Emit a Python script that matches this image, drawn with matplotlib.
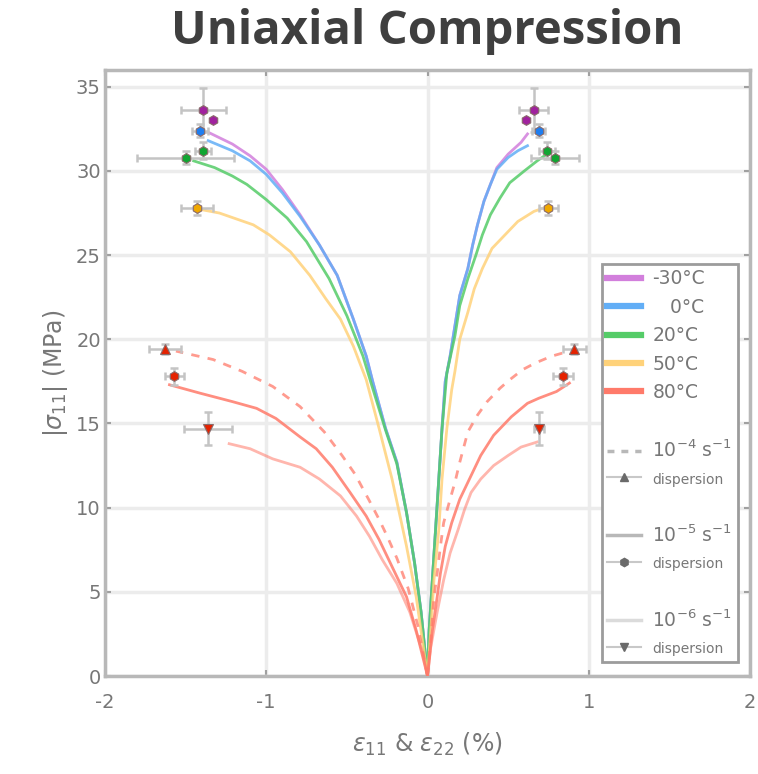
import numpy as np
import matplotlib.pyplot as plt
from matplotlib.lines import Line2D

plt.rcParams['axes.unicode_minus'] = False

#%% data (strain in %, stress in MPa)

temps = ['-30°C', '   0°C', '20°C', '50°C', '80°C']
line_colors = ['#d27fdc', '#62aef6', '#55cc68', '#ffd27a', '#ff7a6a']
marker_colors = ['#a0229e', '#1e7ef0', '#11a532', '#f0a800', '#e52200']

#curves at 1e-5 1/s, left = lateral strain, right = axial strain
m30_left_x = [0, -0.04, -0.08, -0.13, -0.19, -0.26, -0.34, -0.38, -0.46, -0.56, -0.67, -0.79, -0.90, -1.00, -1.10, -1.21, -1.36]
m30_left_y = [0, 3.8, 6.7, 9.7, 12.7, 14.7, 17.5, 19.0, 21.2, 23.8, 25.6, 27.4, 28.9, 30.1, 30.9, 31.6, 32.3]
m30_right_x = [0, 0.01, 0.03, 0.05, 0.07, 0.09, 0.11, 0.14, 0.17, 0.20, 0.25, 0.28, 0.31, 0.35, 0.39, 0.43, 0.50, 0.58, 0.62]
m30_right_y = [0, 2.7, 5.7, 8.7, 11.7, 14.7, 17.5, 19.0, 20.8, 22.6, 24.2, 25.6, 26.8, 28.2, 29.2, 30.2, 31.0, 31.7, 32.2]

t0_left_x = [0, -0.04, -0.08, -0.13, -0.19, -0.26, -0.34, -0.38, -0.46, -0.56, -0.67, -0.79, -0.90, -1.00, -1.10, -1.21, -1.36]
t0_left_y = [0, 3.8, 6.7, 9.7, 12.7, 14.7, 17.5, 19.0, 21.2, 23.8, 25.6, 27.3, 28.7, 29.8, 30.6, 31.2, 31.8]
t0_right_x = [0, 0.01, 0.03, 0.05, 0.07, 0.09, 0.11, 0.14, 0.17, 0.20, 0.25, 0.28, 0.31, 0.35, 0.39, 0.43, 0.50, 0.56, 0.62]
t0_right_y = [0, 2.7, 5.7, 8.7, 11.7, 14.7, 17.5, 19.0, 20.8, 22.6, 24.2, 25.6, 26.8, 28.2, 29.2, 30.1, 30.8, 31.2, 31.5]

t20_left_x = [0, -0.04, -0.08, -0.13, -0.19, -0.26, -0.35, -0.40, -0.50, -0.61, -0.75, -0.87, -1.00, -1.12, -1.21, -1.32, -1.45]
t20_left_y = [0, 3.8, 6.7, 9.7, 12.6, 14.6, 17.4, 19.0, 21.4, 23.6, 25.8, 27.2, 28.3, 29.2, 29.7, 30.2, 30.6]
t20_right_x = [0, 0.01, 0.03, 0.05, 0.07, 0.09, 0.12, 0.17, 0.20, 0.25, 0.30, 0.34, 0.39, 0.45, 0.51, 0.60, 0.68, 0.74]
t20_right_y = [0, 2.7, 5.7, 8.7, 11.7, 14.7, 18.0, 20.2, 22.0, 23.6, 25.0, 26.2, 27.4, 28.4, 29.3, 30.0, 30.6, 31.0]

t50_left_x = [0, -0.07, -0.13, -0.22, -0.30, -0.38, -0.46, -0.54, -0.63, -0.73, -0.85, -0.98, -1.08, -1.20, -1.29, -1.40]
t50_left_y = [0, 4.7, 7.7, 11.7, 14.7, 17.6, 19.6, 21.2, 22.4, 23.8, 25.2, 26.2, 26.8, 27.2, 27.5, 27.7]
t50_right_x = [0, 0.02, 0.04, 0.07, 0.09, 0.12, 0.15, 0.17, 0.20, 0.25, 0.29, 0.34, 0.40, 0.48, 0.56, 0.66, 0.72]
t50_right_y = [0, 2.7, 5.7, 8.7, 11.7, 14.7, 17.0, 18.1, 20.0, 21.6, 23.0, 24.2, 25.4, 26.2, 27.0, 27.6, 27.8]

#80°C at three strain rates
r4_left_x = [0, -0.06, -0.12, -0.19, -0.25, -0.30, -0.36, -0.45, -0.53, -0.64, -0.79, -0.96, -1.15, -1.33, -1.56]
r4_left_y = [0, 3.0, 5.2, 7.0, 8.3, 9.3, 10.4, 12.0, 13.1, 14.5, 16.0, 17.2, 18.1, 18.8, 19.3]
r4_right_x = [0, 0.02, 0.04, 0.06, 0.08, 0.10, 0.14, 0.17, 0.20, 0.25, 0.31, 0.37, 0.45, 0.51, 0.59, 0.67, 0.77, 0.88]
r4_right_y = [0, 2.1, 4.7, 6.1, 7.7, 9.1, 10.5, 11.5, 12.7, 14.5, 15.5, 16.3, 17.1, 17.6, 18.2, 18.6, 19.0, 19.3]

r5_left_x = [0, -0.07, -0.13, -0.22, -0.30, -0.38, -0.48, -0.59, -0.69, -0.79, -0.94, -1.06, -1.21, -1.41, -1.60]
r5_left_y = [0, 2.7, 4.7, 6.5, 8.1, 9.5, 10.9, 12.4, 13.5, 14.2, 15.3, 15.9, 16.3, 16.8, 17.3]
r5_right_x = [0, 0.03, 0.06, 0.08, 0.11, 0.15, 0.20, 0.27, 0.33, 0.41, 0.52, 0.62, 0.69, 0.80, 0.88]
r5_right_y = [0, 2.7, 4.7, 6.1, 7.7, 9.1, 10.5, 11.9, 13.1, 14.3, 15.4, 16.2, 16.5, 16.9, 17.4]

r6_left_x = [0, -0.03, -0.11, -0.19, -0.28, -0.36, -0.44, -0.54, -0.67, -0.79, -0.96, -1.10, -1.23]
r6_left_y = [0, 1.4, 3.8, 5.5, 6.9, 8.3, 9.5, 10.7, 11.7, 12.4, 12.9, 13.5, 13.8]
r6_right_x = [0, 0.02, 0.06, 0.10, 0.14, 0.19, 0.23, 0.27, 0.33, 0.41, 0.50, 0.58, 0.68]
r6_right_y = [0, 1.7, 3.8, 5.7, 7.3, 8.7, 9.9, 10.9, 11.7, 12.5, 13.1, 13.6, 13.9]

#end points with dispersion (x, y, xerr, yerr)
m30_pts_x = [-1.39, -1.33, 0.66, 0.61]
m30_pts_y = [33.6, 33.0, 33.6, 33.0]
m30_xerr = [0.14, 0.0, 0.09, 0.0]
m30_yerr = [1.3, 0.0, 1.3, 0.0]

t0_pts_x = [-1.41, 0.69]
t0_pts_y = [32.4, 32.4]
t0_xerr = [0.05, 0.04]
t0_yerr = [0.4, 0.4]

t20_pts_x = [-1.39, -1.50, 0.74, 0.79]
t20_pts_y = [31.2, 30.8, 31.2, 30.8]
t20_xerr = [0.05, 0.30, 0.05, 0.15]
t20_yerr = [0.5, 0.4, 0.5, 0.4]

t50_pts_x = [-1.43, 0.75]
t50_pts_y = [27.8, 27.8]
t50_xerr = [0.10, 0.06]
t50_yerr = [0.4, 0.4]

r4_pts_x = [-1.63, 0.91]
r4_pts_y = [19.4, 19.4]
r4_xerr = [0.10, 0.07]
r4_yerr = [0.3, 0.3]

r5_pts_x = [-1.57, 0.84]
r5_pts_y = [17.8, 17.8]
r5_xerr = [0.06, 0.06]
r5_yerr = [0.5, 0.5]

r6_pts_x = [-1.36, 0.69]
r6_pts_y = [14.7, 14.7]
r6_xerr = [0.15, 0.03]
r6_yerr = [1.0, 1.0]

#%% plot

fig = plt.figure(figsize=(7.58, 7.74), dpi=100)
ax = fig.add_axes([0.1385, 0.1266, 0.851, 0.783])

txt = '#777777'
lw = 2.0

curves = [(m30_left_x, m30_left_y, m30_right_x, m30_right_y, 0),
          (t0_left_x, t0_left_y, t0_right_x, t0_right_y, 1),
          (t20_left_x, t20_left_y, t20_right_x, t20_right_y, 2),
          (t50_left_x, t50_left_y, t50_right_x, t50_right_y, 3),
          (r5_left_x, r5_left_y, r5_right_x, r5_right_y, 4)]
for lx, ly, rx, ry, i in curves:
    ax.plot(lx, ly, c=line_colors[i], lw=lw, alpha=0.85, zorder=3)
    ax.plot(rx, ry, c=line_colors[i], lw=lw, alpha=0.85, zorder=3)

#80°C other rates
ax.plot(r4_left_x, r4_left_y, c=line_colors[4], lw=lw, ls=(0, (3, 3)), alpha=0.75, zorder=3)
ax.plot(r4_right_x, r4_right_y, c=line_colors[4], lw=lw, ls=(0, (3, 3)), alpha=0.75, zorder=3)
ax.plot(r6_left_x, r6_left_y, c=line_colors[4], lw=lw, alpha=0.55, zorder=3)
ax.plot(r6_right_x, r6_right_y, c=line_colors[4], lw=lw, alpha=0.55, zorder=3)

#markers with error bars
pts = [(m30_pts_x, m30_pts_y, m30_xerr, m30_yerr, 0, 'h'),
       (t0_pts_x, t0_pts_y, t0_xerr, t0_yerr, 1, 'h'),
       (t20_pts_x, t20_pts_y, t20_xerr, t20_yerr, 2, 'h'),
       (t50_pts_x, t50_pts_y, t50_xerr, t50_yerr, 3, 'h'),
       (r4_pts_x, r4_pts_y, r4_xerr, r4_yerr, 4, '^'),
       (r5_pts_x, r5_pts_y, r5_xerr, r5_yerr, 4, 'h'),
       (r6_pts_x, r6_pts_y, r6_xerr, r6_yerr, 4, 'v')]
for px, py, ex, ey, i, mk in pts:
    ax.errorbar(px, py, xerr=ex, yerr=ey, fmt='none', ecolor='#c4c4c4',
                elinewidth=1.8, capsize=3, capthick=1.8, zorder=4)
    ax.plot(px, py, ls='none', marker=mk, ms=7, mfc=marker_colors[i],
            mec='#8a6a6a', mew=0.8, zorder=5)

ax.set_xlim(-2, 2)
ax.set_ylim(0, 36)
ax.set_xticks([-2, -1, 0, 1, 2])
ax.set_yticks(np.arange(0, 36, 5))
ax.grid(True, color='#ececec', lw=2.5)
ax.set_axisbelow(True)
for s in ax.spines.values():
    s.set_color('#b8b8b8')
    s.set_linewidth(2.5)
ax.tick_params(direction='in', length=4, width=1.5, color='#a0a0a0',
               labelsize=14, labelcolor=txt, top=True, right=True)
ax.tick_params(axis='x', pad=12)
ax.tick_params(axis='y', pad=3)

ax.set_xlabel(r'$\epsilon_{11}$ & $\epsilon_{22}$ (%)', fontsize=17, color=txt, labelpad=14)
ax.set_ylabel(r'$|\sigma_{11}|$ (MPa)', fontsize=17, color=txt, labelpad=4)
ax.set_title('Uniaxial Compression', fontsize=34, fontweight='bold',
             family='Open Sans', color='#3f3f3f', pad=19)

#legend built by hand
handles = []
labels = []
for i in range(5):
    handles.append(Line2D([], [], c=line_colors[i], lw=4.5))
    labels.append(temps[i])
blank = Line2D([], [], ls='none')
rate_lines = [(0, (2, 2)), '-', '-']
rate_alpha = [1.0, 1.0, 0.5]
rate_labels = [r'10$^{-4}$ s$^{-1}$', r'10$^{-5}$ s$^{-1}$', r'10$^{-6}$ s$^{-1}$']
rate_marks = ['^', 'h', 'v']
for k in range(3):
    handles.append(blank)
    labels.append(' ')
    handles.append(Line2D([], [], c='#b8b8b8', lw=2.5, ls=rate_lines[k], alpha=rate_alpha[k]))
    labels.append(rate_labels[k])
    handles.append(Line2D([], [], c='#c8c8c8', lw=1.5, marker=rate_marks[k],
                          ms=6, mfc='#6a6a6a', mec='#6a6a6a'))
    labels.append('dispersion')

leg = ax.legend(handles, labels, loc='lower right', bbox_to_anchor=(0.996, 0.008),
                fontsize=13.5, frameon=True, fancybox=False, handlelength=1.8,
                labelspacing=0.5, borderpad=0.3, handletextpad=0.6,
                framealpha=1)
leg.get_frame().set_edgecolor('#9c9c9c')
leg.get_frame().set_linewidth(2)
for t in leg.get_texts():
    t.set_color(txt)
    if t.get_text() == 'dispersion':
        t.set_fontsize(10)

plt.savefig('out.png', dpi=100)
